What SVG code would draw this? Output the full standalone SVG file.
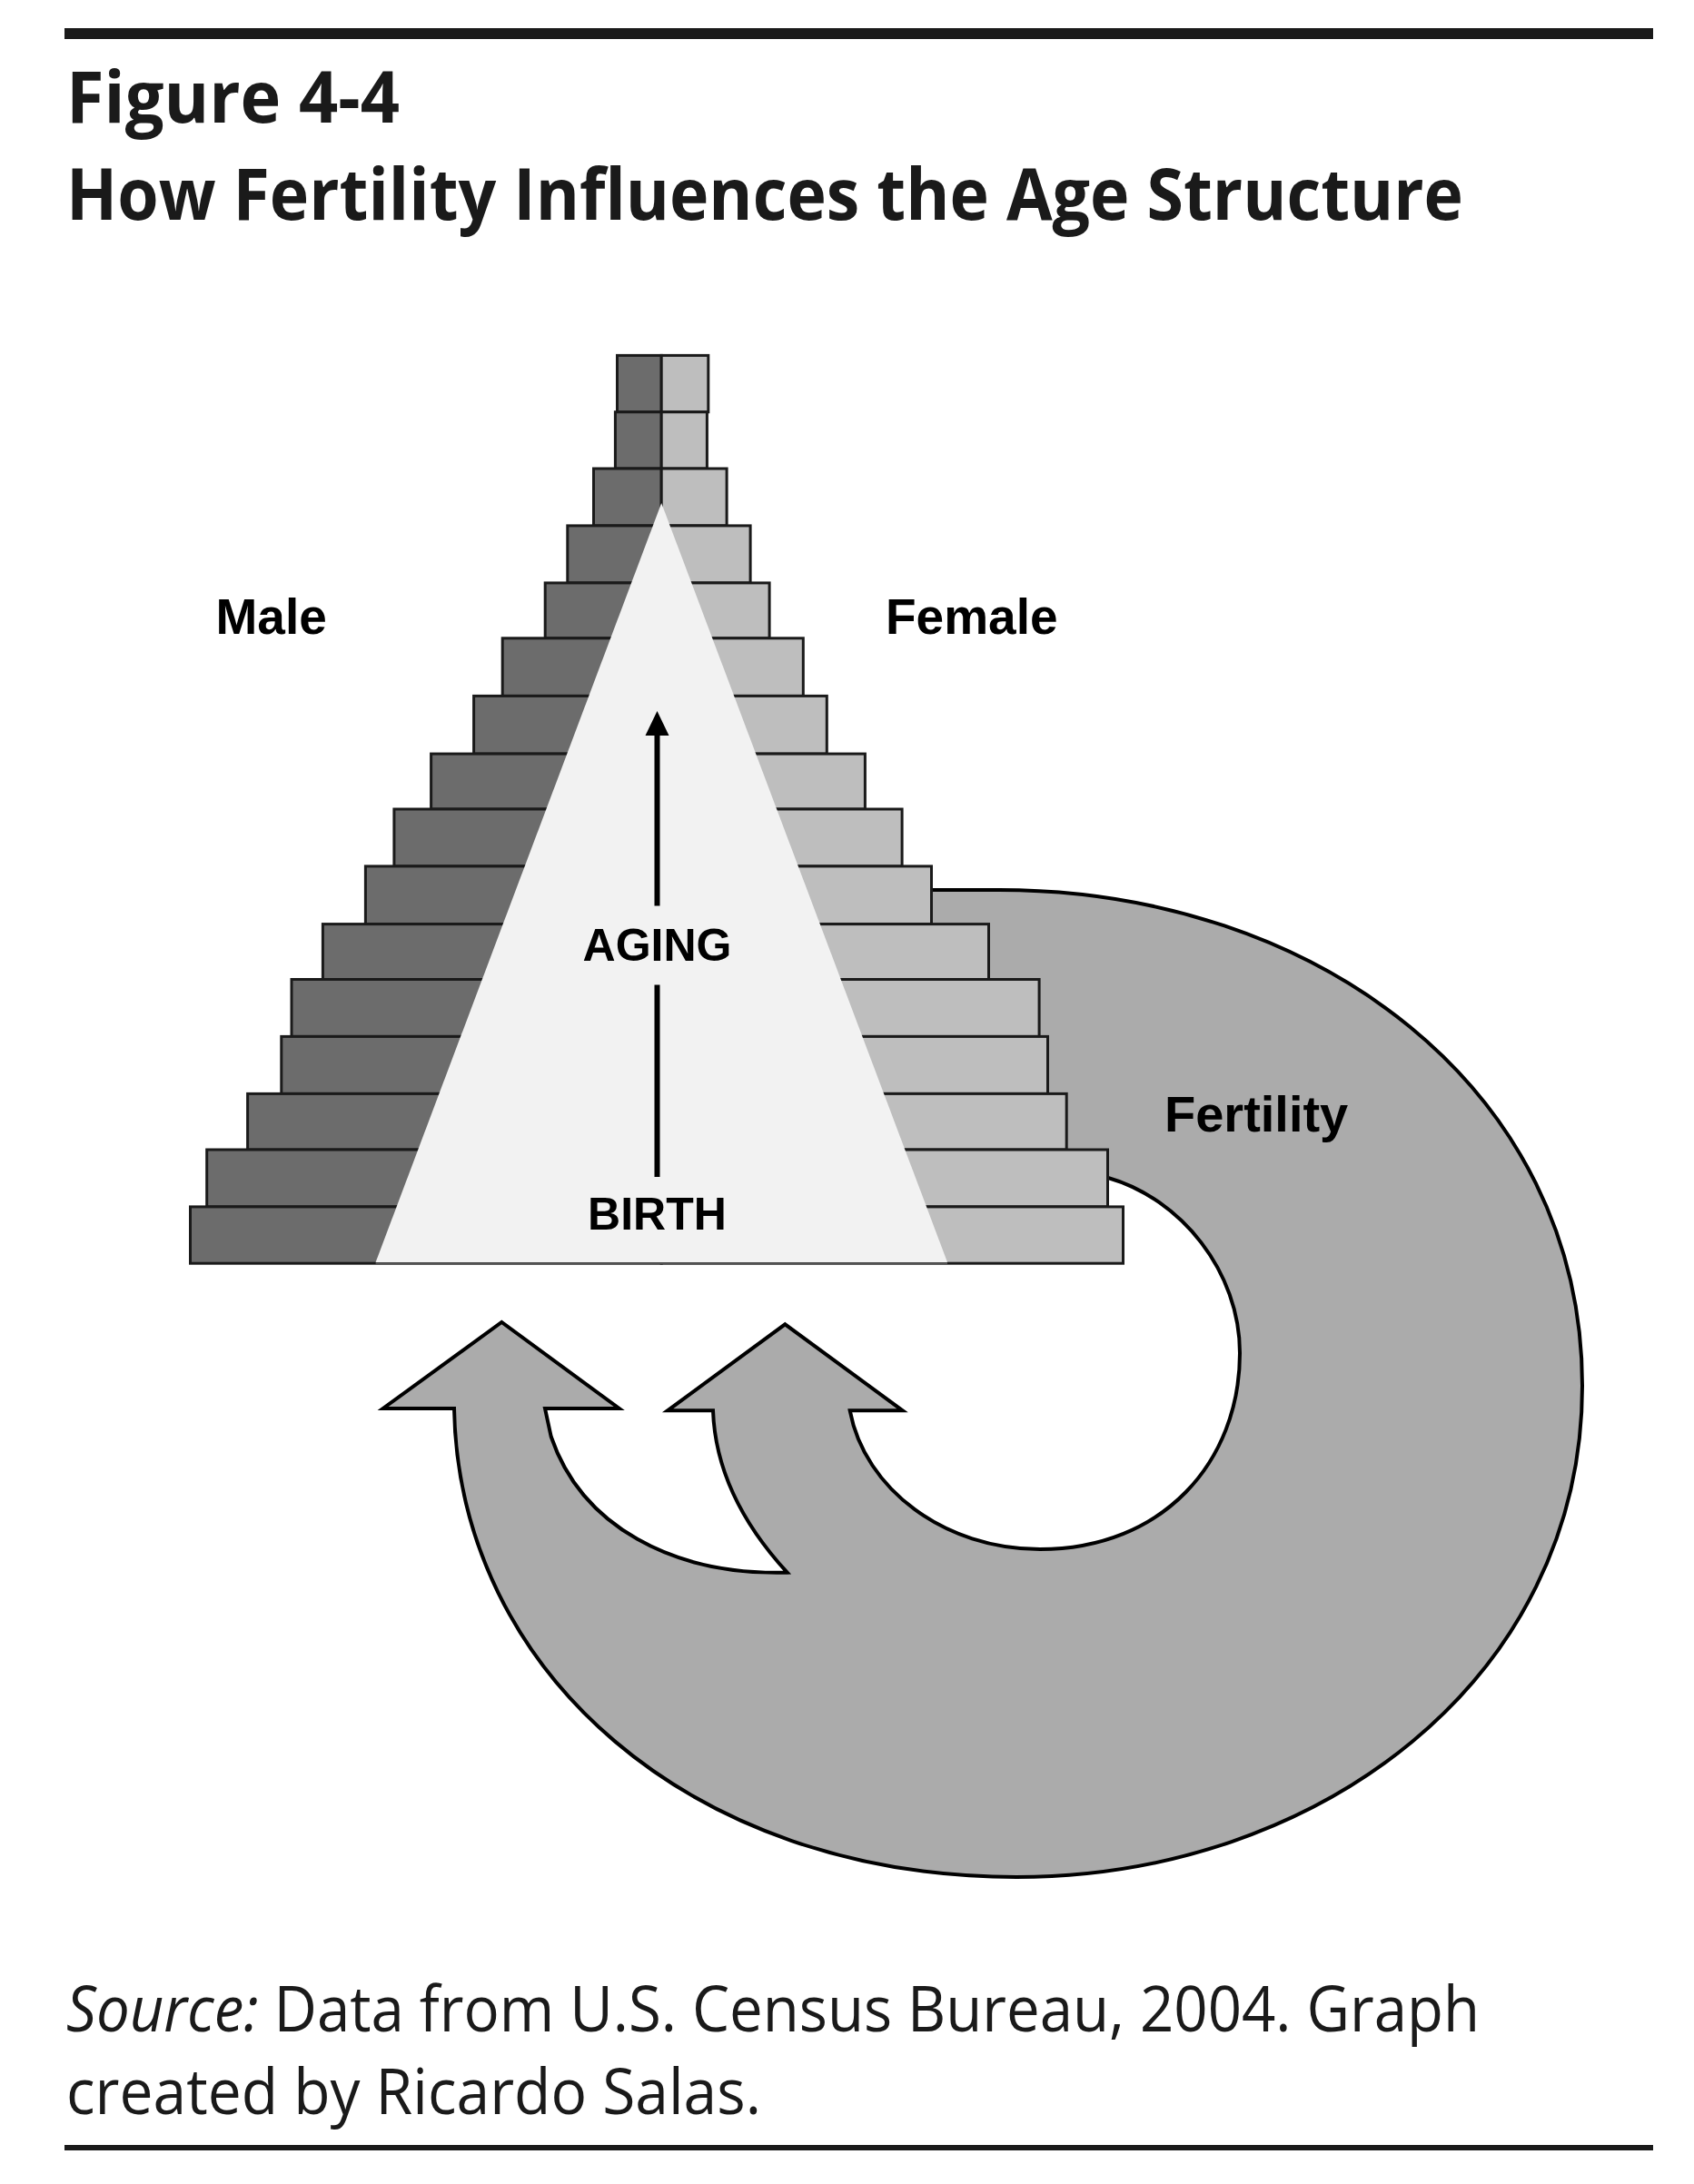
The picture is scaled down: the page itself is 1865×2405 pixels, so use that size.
<svg xmlns="http://www.w3.org/2000/svg" width="1865" height="2405" viewBox="0 0 1865 2405">
<defs>
<style>
.rule{fill:#1a1a1a}
.title{font-family:"Open Sans","Noto Sans",sans-serif;font-weight:bold;font-size:78px;fill:#1a1a1a}
.src{font-family:"Open Sans","Noto Sans",sans-serif;font-size:70px;fill:#1a1a1a}
.lbl{font-family:"Liberation Sans",Arial,sans-serif;font-weight:bold;fill:#000}
.m{fill:#6c6c6c;stroke:#1a1a1a;stroke-width:3}
.f{fill:#bebebe;stroke:#1a1a1a;stroke-width:3}
.aging{stroke:#000;stroke-width:6;fill:none}
</style>
<marker id="head" markerUnits="userSpaceOnUse" markerWidth="30" markerHeight="28" viewBox="0 0 30 28" refX="2" refY="14" orient="auto">
<path d="M0,1 L27,14 L0,27 z" fill="#000"/>
</marker>
</defs>
<rect width="1865" height="2405" fill="#fff"/>

<rect class="rule" x="71" y="31" width="1749" height="12"/>
<text class="title" x="73" y="135" textLength="367" lengthAdjust="spacingAndGlyphs">Figure 4-4</text>
<text class="title" x="73" y="242" textLength="1538" lengthAdjust="spacingAndGlyphs">How Fertility Influences the Age Structure</text>

<g id="fertility-arrow">
<path d="M1000,980 L1100,980 C1450,980 1742,1200 1742,1526 C1742,1850 1450,2067 1119,2067 C760,2067 505,1840 500,1551 L421.7,1551 L552.3,1456 L681.7,1551 L600,1551 L606.7,1582 C640,1680 740,1735 866.7,1731.7 C810,1670 787,1610 785,1553.3 L735,1553.3 L864.3,1458.3 L993.7,1553.3 L935.7,1553.3 C952,1640 1040,1706 1145,1706 C1280,1706 1365,1610 1365,1490 C1365,1400 1300,1320 1220,1297 L1100,1290 L1000,1290 Z" fill="#ababab" stroke="#000" stroke-width="4" stroke-linejoin="miter"/>
</g>

<g id="pyramid">
<g id="bar-1"><rect class="m" x="679.5" y="391.4" width="48.7" height="62.3"/><rect class="f" x="728.2" y="391.4" width="51.6" height="62.3"/></g>
<g id="bar-2"><rect class="m" x="677.4" y="453.7" width="50.8" height="62.3"/><rect class="f" x="728.2" y="453.7" width="50.2" height="62.3"/></g>
<g id="bar-3"><rect class="m" x="653.5" y="516" width="74.7" height="62.9"/><rect class="f" x="728.2" y="516" width="71.9" height="62.9"/></g>
<g id="bar-4"><rect class="m" x="624.8" y="578.9" width="103.4" height="63"/><rect class="f" x="728.2" y="578.9" width="97.9" height="63"/></g>
<g id="bar-5"><rect class="m" x="600.2" y="641.9" width="128" height="60.9"/><rect class="f" x="728.2" y="641.9" width="118.9" height="60.9"/></g>
<g id="bar-6"><rect class="m" x="553.2" y="702.8" width="175" height="63.6"/><rect class="f" x="728.2" y="702.8" width="156.1" height="63.6"/></g>
<g id="bar-7"><rect class="m" x="521.6" y="766.4" width="206.6" height="63.7"/><rect class="f" x="728.2" y="766.4" width="182.1" height="63.7"/></g>
<g id="bar-8"><rect class="m" x="474.6" y="830.1" width="253.6" height="60.9"/><rect class="f" x="728.2" y="830.1" width="224.2" height="60.9"/></g>
<g id="bar-9"><rect class="m" x="433.9" y="891" width="294.3" height="62.9"/><rect class="f" x="728.2" y="891" width="264.9" height="62.9"/></g>
<g id="bar-10"><rect class="m" x="402.4" y="953.9" width="325.8" height="63.7"/><rect class="f" x="728.2" y="953.9" width="297.3" height="63.7"/></g>
<g id="bar-11"><rect class="m" x="355.4" y="1017.6" width="372.8" height="60.9"/><rect class="f" x="728.2" y="1017.6" width="360.3" height="60.9"/></g>
<g id="bar-12"><rect class="m" x="321" y="1078.5" width="407.2" height="62.9"/><rect class="f" x="728.2" y="1078.5" width="415.9" height="62.9"/></g>
<g id="bar-13"><rect class="m" x="309.8" y="1141.4" width="418.4" height="63"/><rect class="f" x="728.2" y="1141.4" width="425.3" height="63"/></g>
<g id="bar-14"><rect class="m" x="272.6" y="1204.4" width="455.6" height="61.6"/><rect class="f" x="728.2" y="1204.4" width="446" height="61.6"/></g>
<g id="bar-15"><rect class="m" x="227.7" y="1266" width="500.5" height="62.9"/><rect class="f" x="728.2" y="1266" width="491.3" height="62.9"/></g>
<g id="bar-16"><rect class="m" x="209.5" y="1328.9" width="518.7" height="62.3"/><rect class="f" x="728.2" y="1328.9" width="508.3" height="62.3"/></g>
</g>

<g id="age-triangle">
<polygon points="728.2,554 1043,1390 413.6,1390" fill="#f2f2f2"/>
<line x1="413.6" y1="1391.2" x2="1043" y2="1391.2" stroke="#555" stroke-width="2"/>
</g>

<g id="connectors">
<line class="aging" x1="723.5" y1="997.5" x2="723.5" y2="808" marker-end="url(#head)"/>
<line class="aging" x1="723.5" y1="1084.5" x2="723.5" y2="1296"/>
</g>

<g id="labels">
<text class="lbl" x="237.5" y="698" font-size="55">Male</text>
<text class="lbl" x="975" y="698" font-size="55">Female</text>
<text class="lbl" x="723.5" y="1058" font-size="50" text-anchor="middle">AGING</text>
<text class="lbl" x="723.5" y="1354" font-size="50" text-anchor="middle">BIRTH</text>
<text class="lbl" x="1282" y="1246" font-size="56">Fertility</text>
</g>

<text class="src" x="73" y="2237" textLength="1556" lengthAdjust="spacingAndGlyphs"><tspan font-style="italic">Source:</tspan> Data from U.S. Census Bureau, 2004. Graph</text>
<text class="src" x="73" y="2328" textLength="765" lengthAdjust="spacingAndGlyphs">created by Ricardo Salas.</text>
<rect class="rule" x="71" y="2362" width="1749" height="6"/>
</svg>
